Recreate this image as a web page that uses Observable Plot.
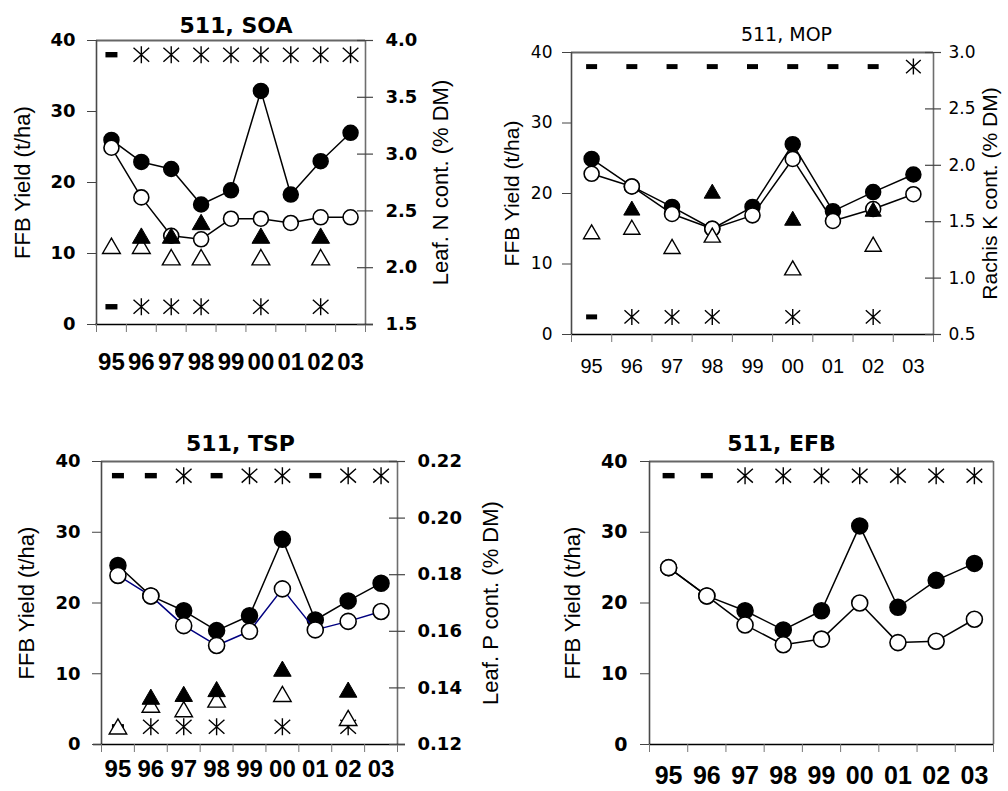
<!DOCTYPE html>
<html>
<head>
<meta charset="utf-8">
<script src="https://cdn.jsdelivr.net/npm/d3@7"></script>
<script src="https://cdn.jsdelivr.net/npm/@observablehq/plot@0.6"></script>
<style>
  body { margin: 0; background: #fff; }
  #page { position: relative; width: 1008px; height: 791px; overflow: hidden; background: #fff; }
  #page svg { position: absolute; }
</style>
</head>
<body>
<div id="page"></div>
<script>
// Harvest years shown on every panel
const years = ["95", "96", "97", "98", "99", "00", "01", "02", "03"];

// Significance rows drawn at the top and bottom of each panel ("*" significant, "-" not)
const markTopLevel = 38;
const markBottomLevel = 2.5;

// ---- 511, SOA : FFB yield (t/ha) and leaf N (% DM)
const soaYieldFilled = [26.0, 22.9, 21.9, 16.9, 18.9, 32.9, 18.3, 23.0, 27.0];
const soaYieldOpen   = [24.9, 17.9, 12.5, 12.0, 14.9, 14.9, 14.3, 15.1, 15.1];
const soaNutFilled   = [null, 2.26, 2.26, 2.38, null, 2.26, null, 2.26, null];
const soaNutOpen     = [2.17, 2.17, 2.07, 2.07, null, 2.07, null, 2.07, null];
const soaSigTop      = ["-", "*", "*", "*", "*", "*", "*", "*", "*"];
const soaSigBottom   = ["-", "*", "*", "*", "", "*", "", "*", ""];
const soaRightTicks  = [1.5, 2.0, 2.5, 3.0, 3.5, 4.0];

// ---- 511, MOP : FFB yield (t/ha) and rachis K (% DM)
const mopYieldFilled = [24.9, 21.0, 18.1, 15.0, 18.1, 27.0, 17.5, 20.2, 22.7];
const mopYieldOpen   = [22.8, 21.0, 17.1, 15.0, 16.9, 24.9, 16.1, 17.8, 19.9];
const mopNutFilled   = [null, 1.60, null, 1.75, null, 1.51, null, 1.59, null];
const mopNutOpen     = [1.39, 1.43, 1.26, 1.36, null, 1.07, null, 1.28, null];
const mopSigTop      = ["-", "-", "-", "-", "-", "-", "-", "-", "*"];
const mopSigBottom   = ["-", "*", "*", "*", "", "*", "", "*", ""];
const mopRightTicks  = [0.5, 1.0, 1.5, 2.0, 2.5, 3.0];

// ---- 511, TSP : FFB yield (t/ha) and leaf P (% DM)
const tspYieldFilled = [25.3, 21.0, 18.9, 16.1, 18.2, 29.0, 17.6, 20.3, 22.8];
const tspYieldOpen   = [23.9, 21.0, 16.8, 14.0, 16.0, 22.0, 16.2, 17.4, 18.8];
const tspNutFilled   = [null, 0.136, 0.137, 0.1387, null, 0.1459, null, 0.1385, null];
const tspNutOpen     = [0.1255, 0.1332, 0.1316, 0.135, null, 0.137, null, 0.1285, null];
const tspSigTop      = ["-", "-", "*", "-", "*", "*", "-", "*", "*"];
const tspSigBottom   = ["-", "*", "*", "*", "", "*", "", "*", ""];
const tspRightTicks  = [0.12, 0.14, 0.16, 0.18, 0.20, 0.22];

// ---- 511, EFB : FFB yield (t/ha)
const efbYieldFilled = [25.0, 21.0, 18.9, 16.2, 18.9, 30.9, 19.4, 23.2, 25.6];
const efbYieldOpen   = [25.0, 21.0, 16.9, 14.1, 14.9, 20.0, 14.4, 14.6, 17.7];
const efbSigTop      = ["-", "-", "*", "*", "*", "*", "*", "*", "*"];

const yieldTicks = [0, 10, 20, 30, 40];
const yieldLabel = "FFB Yield (t/ha)";

// Custom marker shapes: a short filled bar and a six-armed asterisk
const dashSymbol = {
  draw(ctx, size) {
    const r = Math.sqrt(size / Math.PI);
    const h = r * 0.45;
    ctx.moveTo(-r, -h); ctx.lineTo(r, -h); ctx.lineTo(r, h); ctx.lineTo(-r, h); ctx.closePath();
  }
};
const starSymbol = {
  draw(ctx, size) {
    const r = Math.sqrt(size / Math.PI);
    const w = r * 0.92, h = r * 0.82;
    ctx.moveTo(0, -r); ctx.lineTo(0, r);
    ctx.moveTo(-w, -h); ctx.lineTo(w, h);
    ctx.moveTo(-w, h); ctx.lineTo(w, -h);
  }
};

const NUM_FONT = "'DejaVu Sans', sans-serif";
const ARIAL_FONT = "'Liberation Sans', Arial, sans-serif";

function panel(cfg) {
  const rows = years.map((yr, i) => ({
    i, yr,
    yf: cfg.yieldFilled[i],
    yo: cfg.yieldOpen[i],
    nf: cfg.nutFilled ? cfg.nutFilled[i] : null,
    no: cfg.nutOpen ? cfg.nutOpen[i] : null,
    st: cfg.sigTop ? cfg.sigTop[i] : "",
    sb: cfg.sigBottom ? cfg.sigBottom[i] : ""
  }));
  const xc = d => d.i + 0.5;
  const weight = cfg.bold ? "bold" : "normal";
  // right-axis values mapped onto the yield scale
  let toY = null, fromY = null;
  if (cfg.rightDomain) {
    const [r0, r1] = cfg.rightDomain;
    toY = v => (v - r0) / (r1 - r0) * 40;
    fromY = y => r0 + y / 40 * (r1 - r0);
  }

  const marks = [
    // plot frame: grey top edge and sides, black baseline
    Plot.ruleY([40], {stroke: "#666", strokeWidth: 2}),
    Plot.ruleX([9], {stroke: "#6e6e6e", strokeWidth: 1.6}),
    Plot.ruleX([0], {stroke: "#4a4a4a", strokeWidth: 1.6}),
    Plot.ruleY([0], {stroke: "#000", strokeWidth: 1.5, insetLeft: -cfg.axisExtL, insetRight: -cfg.axisExtR}),
    // left yield axis
    Plot.axisY({
      ticks: yieldTicks, tickSize: 9, tickPadding: cfg.leftPad, stroke: "#444",
      fontSize: cfg.tickFont, fontWeight: weight, fontFamily: NUM_FONT, label: null
    }),
    // year tick marks at band edges, labels at band centres
    Plot.axisX({
      ticks: d3.range(10), tickSize: 8, stroke: "#777", tickFormat: () => "", label: null
    }),
    Plot.axisX({
      ticks: years.map((_, i) => i + 0.5), tickSize: 0, tickPadding: cfg.xPad,
      tickFormat: v => years[Math.floor(v)],
      fontSize: cfg.xFont, fontWeight: weight, fontFamily: ARIAL_FONT, label: null
    }),
    Plot.text([cfg.title], {
      frameAnchor: "top", textAnchor: "middle", lineAnchor: "bottom",
      dx: cfg.titleDx, dy: -cfg.titleGap,
      fontSize: cfg.titleFont, fontWeight: weight, fontFamily: NUM_FONT
    }),
    Plot.text([yieldLabel], {
      frameAnchor: "left", textAnchor: "middle", lineAnchor: "middle", rotate: -90,
      dx: cfg.leftTitleDx, fontSize: cfg.axisTitleFont, fontFamily: ARIAL_FONT
    })
  ];

  if (toY) {
    marks.push(
      Plot.ruleY(cfg.rightTicks, {
        y: toY, x1: 9, x2: 9, insetLeft: -8, insetRight: -8, stroke: "#444", strokeWidth: 1.2
      }),
      Plot.axisY({
        anchor: "right", ticks: cfg.rightTicks.map(toY), tickSize: 0, tickPadding: cfg.rightPad,
        tickFormat: y => fromY(y).toFixed(cfg.rightDecimals),
        fontSize: cfg.tickFont, fontWeight: weight, fontFamily: NUM_FONT, label: null
      }),
      Plot.text([cfg.rightLabel], {
        frameAnchor: "right", textAnchor: "middle", lineAnchor: "middle", rotate: -90,
        dx: cfg.rightTitleDx, fontSize: cfg.axisTitleFont, fontFamily: ARIAL_FONT
      })
    );
  }

  // significance rows
  const sig = [
    ...rows.map(d => ({i: d.i, s: d.st, level: markTopLevel})),
    ...rows.map(d => ({i: d.i, s: d.sb, level: markBottomLevel}))
  ];
  marks.push(
    Plot.dot(sig.filter(d => d.s === "-"), {
      x: xc, y: "level", symbol: dashSymbol, r: cfg.dashR, fill: "#000", stroke: "none"
    }),
    Plot.dot(sig.filter(d => d.s === "*"), {
      x: xc, y: "level", symbol: starSymbol, r: cfg.starR, fill: "none", stroke: "#000", strokeWidth: 1.4
    })
  );

  // yield series
  marks.push(
    Plot.line(rows, {x: xc, y: "yf", stroke: "#000", strokeWidth: 1.5}),
    Plot.dot(rows, {x: xc, y: "yf", r: cfg.circleR, fill: "#000", stroke: "#000", strokeWidth: 1.5}),
    Plot.line(rows, {x: xc, y: "yo", stroke: cfg.openLine, strokeWidth: 1.5}),
    Plot.dot(rows, {x: xc, y: "yo", r: cfg.circleR, fill: "#fff", stroke: "#000", strokeWidth: 1.6})
  );

  // nutrient concentration (right axis)
  if (toY) {
    marks.push(
      Plot.dot(rows.filter(d => d.no != null), {
        x: xc, y: d => toY(d.no), symbol: "triangle", r: cfg.triR, fill: "#fff", stroke: "#000", strokeWidth: 1.4
      }),
      Plot.dot(rows.filter(d => d.nf != null), {
        x: xc, y: d => toY(d.nf), symbol: "triangle", r: cfg.triR, fill: "#000", stroke: "#000", strokeWidth: 1
      })
    );
  }

  const svg = Plot.plot({
    width: cfg.width, height: cfg.height,
    marginLeft: cfg.m[3], marginTop: cfg.m[0], marginRight: cfg.m[1], marginBottom: cfg.m[2],
    x: {domain: [0, 9]},
    y: {domain: [0, 40]},
    style: {background: "transparent", overflow: "visible", color: "#000"},
    marks
  });
  svg.style.left = cfg.left + "px";
  svg.style.top = cfg.top + "px";
  document.getElementById("page").appendChild(svg);
}

panel({
  title: "511, SOA", bold: true, left: 0, top: 0, width: 500, height: 390,
  m: [40, 135, 66, 96],
  yieldFilled: soaYieldFilled, yieldOpen: soaYieldOpen,
  nutFilled: soaNutFilled, nutOpen: soaNutOpen,
  sigTop: soaSigTop, sigBottom: soaSigBottom,
  rightDomain: [1.5, 4.0], rightTicks: soaRightTicks, rightDecimals: 1,
  rightLabel: "Leaf. N cont. (% DM)", openLine: "#000",
  tickFont: 18, xFont: 24, titleFont: 22, axisTitleFont: 22,
  leftPad: 12, rightPad: 20, xPad: 28, titleGap: 8, titleDx: 5,
  leftTitleDx: -74, rightTitleDx: 75, axisExtL: 1, axisExtR: 8,
  circleR: 7.5, triR: 6.6, starR: 8.5, dashR: 6
});

panel({
  title: "511, MOP", bold: false, left: 500, top: 0, width: 508, height: 390,
  m: [52, 75, 56, 71],
  yieldFilled: mopYieldFilled, yieldOpen: mopYieldOpen,
  nutFilled: mopNutFilled, nutOpen: mopNutOpen,
  sigTop: mopSigTop, sigBottom: mopSigBottom,
  rightDomain: [0.5, 3.0], rightTicks: mopRightTicks, rightDecimals: 1,
  rightLabel: "Rachis K cont. (% DM)", openLine: "#000",
  tickFont: 17, xFont: 20, titleFont: 19, axisTitleFont: 21,
  leftPad: 10, rightPad: 15, xPad: 24, titleGap: 12, titleDx: 34,
  leftTitleDx: -59, rightTitleDx: 57, axisExtL: 0, axisExtR: 0,
  circleR: 7.5, triR: 6, starR: 8, dashR: 5.5
});

panel({
  title: "511, TSP", bold: true, left: 0, top: 395, width: 505, height: 396,
  m: [66, 108, 47, 101],
  yieldFilled: tspYieldFilled, yieldOpen: tspYieldOpen,
  nutFilled: tspNutFilled, nutOpen: tspNutOpen,
  sigTop: tspSigTop, sigBottom: tspSigBottom,
  rightDomain: [0.12, 0.22], rightTicks: tspRightTicks, rightDecimals: 2,
  rightLabel: "Leaf. P cont. (% DM)", openLine: "#000080",
  tickFont: 18, xFont: 24, titleFont: 22, axisTitleFont: 22,
  leftPad: 12, rightPad: 20, xPad: 15, titleGap: 11, titleDx: -9,
  leftTitleDx: -75, rightTitleDx: 93, axisExtL: 8, axisExtR: 8,
  circleR: 8, triR: 6.5, starR: 8.5, dashR: 6
});

panel({
  title: "511, EFB", bold: true, left: 500, top: 395, width: 508, height: 396,
  m: [66, 15, 47, 149],
  yieldFilled: efbYieldFilled, yieldOpen: efbYieldOpen,
  sigTop: efbSigTop,
  openLine: "#000",
  tickFont: 19, xFont: 25, titleFont: 22, axisTitleFont: 22,
  leftPad: 13, rightPad: 0, xPad: 22, titleGap: 11, titleDx: -40,
  leftTitleDx: -77, rightTitleDx: 0, axisExtL: 0, axisExtR: 0,
  circleR: 8, triR: 6.5, starR: 8.5, dashR: 6
});
</script>
</body>
</html>
